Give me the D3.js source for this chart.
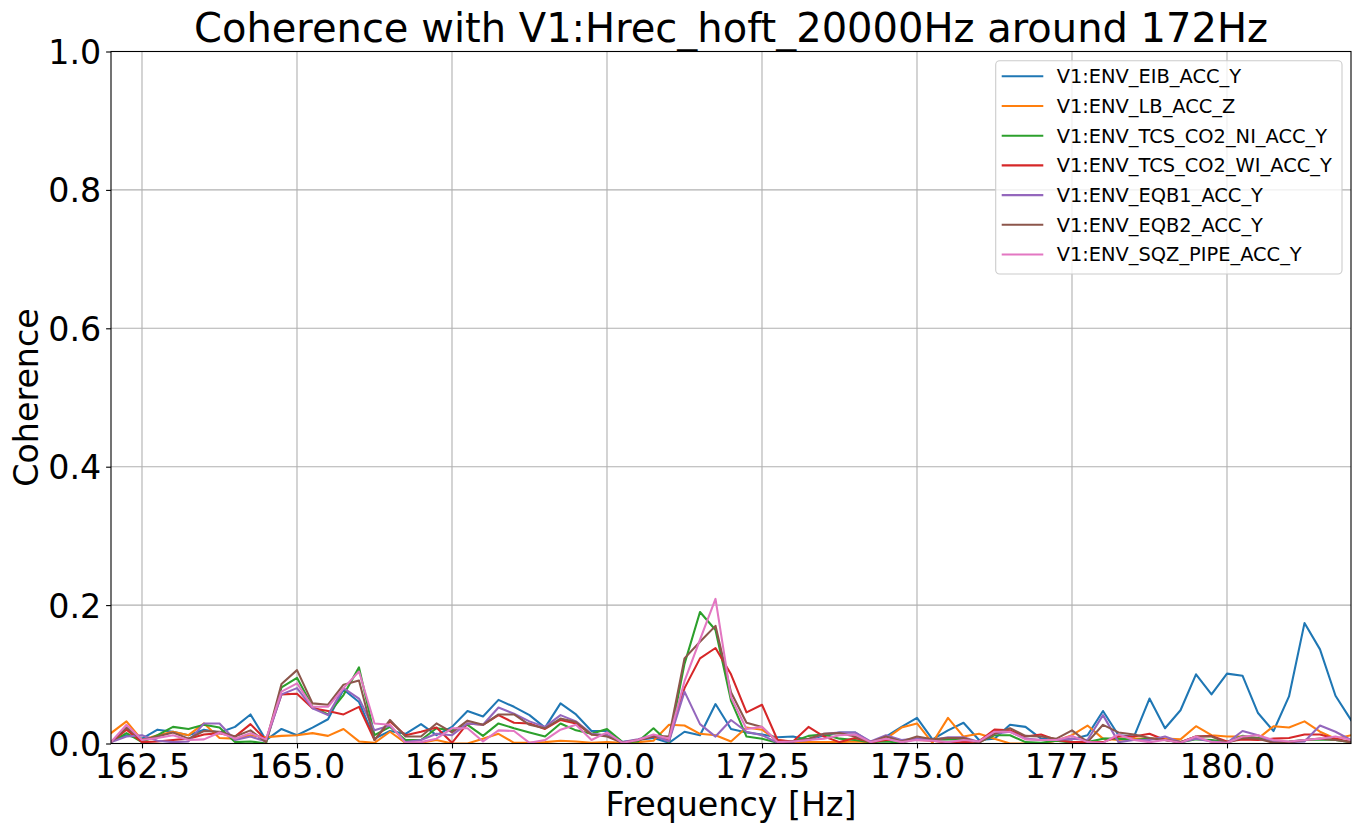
<!DOCTYPE html>
<html>
<head>
<meta charset="utf-8">
<script src="https://cdn.jsdelivr.net/npm/d3@7"></script>
<style>
  html, body { margin: 0; padding: 0; background: #fff; }
  svg { display: block; font-family: "DejaVu Sans", sans-serif; }
</style>
</head>
<body>
<svg id="chart" width="1361" height="835"></svg>
<script>
// ---- data ----
const freqStart = 162.0;
const freqStep = 0.25;
const nPoints = 81;
const frequencies = d3.range(nPoints).map(i => freqStart + i * freqStep);

const xTicks = [162.5, 165.0, 167.5, 170.0, 172.5, 175.0, 177.5, 180.0];
const yTicks = [0.0, 0.2, 0.4, 0.6, 0.8, 1.0];

const channelNames = [
  "V1:ENV_EIB_ACC_Y",
  "V1:ENV_LB_ACC_Z",
  "V1:ENV_TCS_CO2_NI_ACC_Y",
  "V1:ENV_TCS_CO2_WI_ACC_Y",
  "V1:ENV_EQB1_ACC_Y",
  "V1:ENV_EQB2_ACC_Y",
  "V1:ENV_SQZ_PIPE_ACC_Y"
];

const eibAccY = [0.003,0.012,0.007,0.020,0.017,0.012,0.020,0.016,0.024,0.042,
  0.005,0.021,0.012,0.023,0.035,0.078,0.060,0.007,0.018,0.014,
  0.028,0.012,0.024,0.047,0.039,0.063,0.053,0.041,0.023,0.058,
  0.042,0.018,0.018,0.002,0.005,0.008,0.001,0.017,0.012,0.057,
  0.021,0.016,0.013,0.009,0.010,0.005,0.012,0.016,0.016,0.002,
  0.010,0.024,0.037,0.006,0.019,0.030,0.005,0.007,0.027,0.024,
  0.007,0.005,0.006,0.012,0.047,0.012,0.010,0.065,0.022,0.048,
  0.100,0.071,0.101,0.098,0.044,0.018,0.068,0.174,0.136,0.069,0.034];

const lbAccZ = [0.015,0.032,0.005,0.012,0.017,0.012,0.029,0.008,0.007,0.012,
  0.009,0.011,0.012,0.015,0.011,0.021,0.003,0.001,0.017,0.001,
  0.001,0.005,0.000,0.000,0.007,0.014,0.001,0.001,0.002,0.004,
  0.003,0.001,0.002,0.001,0.002,0.004,0.027,0.026,0.014,0.012,
  0.003,0.023,0.020,0.005,0.002,0.002,0.002,0.002,0.003,0.002,
  0.007,0.023,0.029,0.001,0.037,0.010,0.014,0.007,0.000,0.000,
  0.000,0.004,0.012,0.026,0.007,0.005,0.007,0.007,0.007,0.006,
  0.025,0.012,0.010,0.010,0.007,0.025,0.023,0.032,0.017,0.007,0.012];

const tcsCo2NiAccY = [0.002,0.015,0.002,0.012,0.024,0.021,0.027,0.023,0.002,0.003,
  0.000,0.081,0.095,0.053,0.042,0.070,0.110,0.012,0.024,0.005,
  0.005,0.022,0.019,0.027,0.011,0.029,0.022,0.016,0.010,0.029,
  0.019,0.014,0.021,0.002,0.003,0.022,0.001,0.115,0.190,0.164,
  0.062,0.010,0.007,0.001,0.003,0.011,0.013,0.007,0.005,0.002,
  0.003,0.001,0.007,0.005,0.006,0.006,0.002,0.012,0.012,0.002,
  0.001,0.004,0.001,0.002,0.007,0.007,0.005,0.007,0.005,0.002,
  0.006,0.005,0.002,0.011,0.008,0.002,0.003,0.005,0.006,0.005,0.002];

const tcsCo2WiAccY = [0.002,0.020,0.002,0.003,0.005,0.007,0.013,0.015,0.010,0.028,
  0.005,0.071,0.072,0.051,0.047,0.042,0.053,0.005,0.032,0.012,
  0.017,0.023,0.001,0.029,0.027,0.041,0.030,0.029,0.021,0.034,
  0.029,0.013,0.012,0.001,0.005,0.010,0.005,0.080,0.123,0.138,
  0.100,0.045,0.056,0.005,0.003,0.024,0.010,0.002,0.008,0.002,
  0.005,0.005,0.005,0.004,0.001,0.002,0.003,0.020,0.019,0.010,
  0.013,0.005,0.002,0.002,0.002,0.010,0.010,0.014,0.005,0.002,
  0.010,0.011,0.003,0.006,0.005,0.007,0.008,0.013,0.013,0.007,0.002];

const eqb1AccY = [0.002,0.010,0.012,0.004,0.002,0.003,0.029,0.029,0.005,0.010,
  0.003,0.071,0.080,0.051,0.041,0.080,0.065,0.019,0.026,0.002,
  0.005,0.014,0.012,0.029,0.027,0.052,0.043,0.032,0.024,0.041,
  0.032,0.014,0.012,0.002,0.006,0.012,0.003,0.075,0.028,0.010,
  0.034,0.017,0.012,0.001,0.003,0.005,0.014,0.016,0.016,0.003,
  0.012,0.005,0.007,0.005,0.009,0.009,0.002,0.014,0.017,0.007,
  0.005,0.005,0.007,0.005,0.041,0.002,0.005,0.005,0.010,0.002,
  0.007,0.003,0.001,0.018,0.012,0.002,0.002,0.003,0.026,0.017,0.005];

const eqb2AccY = [0.002,0.023,0.005,0.010,0.016,0.007,0.018,0.017,0.010,0.019,
  0.002,0.086,0.106,0.058,0.056,0.085,0.091,0.005,0.034,0.010,
  0.010,0.029,0.016,0.033,0.027,0.042,0.042,0.027,0.022,0.036,
  0.031,0.013,0.010,0.001,0.005,0.011,0.010,0.123,0.147,0.170,
  0.074,0.030,0.024,0.002,0.003,0.007,0.014,0.015,0.010,0.002,
  0.010,0.003,0.010,0.006,0.008,0.008,0.001,0.014,0.022,0.011,
  0.010,0.007,0.019,0.002,0.027,0.016,0.013,0.008,0.005,0.002,
  0.010,0.010,0.001,0.008,0.007,0.001,0.002,0.005,0.007,0.005,0.002];

const sqzPipeAccY = [0.002,0.027,0.005,0.008,0.012,0.005,0.006,0.016,0.007,0.015,
  0.006,0.075,0.087,0.053,0.053,0.080,0.104,0.029,0.027,0.001,
  0.002,0.007,0.022,0.022,0.003,0.019,0.018,0.001,0.005,0.020,
  0.027,0.005,0.016,0.001,0.005,0.013,0.007,0.090,0.150,0.209,
  0.067,0.021,0.024,0.002,0.003,0.005,0.007,0.012,0.013,0.002,
  0.007,0.002,0.005,0.004,0.002,0.005,0.003,0.017,0.017,0.006,
  0.005,0.005,0.011,0.002,0.001,0.013,0.005,0.002,0.005,0.001,
  0.010,0.002,0.001,0.010,0.012,0.005,0.003,0.005,0.007,0.010,0.005];

const seriesValues = [eibAccY, lbAccZ, tcsCo2NiAccY, tcsCo2WiAccY, eqb1AccY, eqb2AccY, sqzPipeAccY];
const colors = ["#1f77b4","#ff7f0e","#2ca02c","#d62728","#9467bd","#8c564b","#e377c2"];

const titleText = "Coherence with V1:Hrec_hoft_20000Hz around 172Hz";
const xLabel = "Frequency [Hz]";
const yLabel = "Coherence";

// ---- layout ----
const svg = d3.select("#chart");
const plot = { left: 111, right: 1351, top: 51.5, bottom: 743.5 };

const x = d3.scaleLinear().domain([162, 182]).range([plot.left, plot.right]);
const y = d3.scaleLinear().domain([0, 1]).range([plot.bottom, plot.top]);

svg.append("rect").attr("width", 1361).attr("height", 835).attr("fill", "#fff");

// grid
const grid = svg.append("g");
grid.selectAll(".gx").data(xTicks).enter().append("line")
  .attr("x1", d => x(d)).attr("x2", d => x(d))
  .attr("y1", plot.top).attr("y2", plot.bottom)
  .attr("stroke", "#b0b0b0").attr("stroke-width", 1.1);
grid.selectAll(".gy").data(yTicks).enter().append("line")
  .attr("x1", plot.left).attr("x2", plot.right)
  .attr("y1", d => y(d)).attr("y2", d => y(d))
  .attr("stroke", "#b0b0b0").attr("stroke-width", 1.1);

// lines
svg.append("clipPath").attr("id", "clip").append("rect")
  .attr("x", plot.left).attr("y", plot.top)
  .attr("width", plot.right - plot.left).attr("height", plot.bottom - plot.top);

const line = d3.line().x((d, i) => x(frequencies[i])).y(d => y(d));
const linesG = svg.append("g").attr("clip-path", "url(#clip)");
seriesValues.forEach((vals, si) => {
  linesG.append("path").datum(vals)
    .attr("d", line)
    .attr("fill", "none")
    .attr("stroke", colors[si])
    .attr("stroke-width", 2.08)
    .attr("stroke-linejoin", "round")
    .attr("stroke-linecap", "square");
});

// axes
const xAxis = d3.axisBottom(x).tickValues(xTicks).tickFormat(d3.format(".1f")).tickSize(4.9).tickPadding(4.9);
const yAxis = d3.axisLeft(y).tickValues(yTicks).tickFormat(d3.format(".1f")).tickSize(4.9).tickPadding(4.9);

const gx = svg.append("g").attr("transform", `translate(0,${plot.bottom})`).call(xAxis);
const gy = svg.append("g").attr("transform", `translate(${plot.left},0)`).call(yAxis);
[gx, gy].forEach(g => {
  g.select(".domain").remove();
  g.selectAll(".tick line").attr("stroke", "#000").attr("stroke-width", 1.1);
  g.selectAll(".tick text").attr("fill", "#000")
    .style("font-family", "DejaVu Sans").style("font-size", "33.3px");
});
gx.selectAll(".tick text").attr("dy", null).attr("y", 4.9 + 4.9).attr("dominant-baseline", "hanging");
gy.selectAll(".tick text").attr("dy", "0.36em");

// spines
svg.append("rect")
  .attr("x", plot.left).attr("y", plot.top)
  .attr("width", plot.right - plot.left).attr("height", plot.bottom - plot.top)
  .attr("fill", "none").attr("stroke", "#000").attr("stroke-width", 1.1);

// labels
svg.append("text").attr("x", (plot.left + plot.right) / 2).attr("y", 42)
  .attr("text-anchor", "middle").style("font-size", "40px").attr("fill", "#000")
  .text(titleText);
svg.append("text").attr("x", (plot.left + plot.right) / 2).attr("y", 816)
  .attr("text-anchor", "middle").style("font-size", "33.3px").attr("fill", "#000")
  .text(xLabel);
svg.append("text")
  .attr("transform", `translate(38,${(plot.top + plot.bottom) / 2}) rotate(-90)`)
  .attr("text-anchor", "middle").style("font-size", "33.3px").attr("fill", "#000")
  .text(yLabel);

// legend
const legend = svg.append("g");
legend.append("rect")
  .attr("x", 995.7).attr("y", 60.7).attr("width", 346.3).attr("height", 213.3)
  .attr("rx", 4).attr("ry", 4)
  .attr("fill", "#fff").attr("fill-opacity", 0.8)
  .attr("stroke", "#cccccc").attr("stroke-width", 1.1);
const rowY0 = 76.3, rowStep = 29.7;
channelNames.forEach((name, i) => {
  const ry = rowY0 + i * rowStep;
  legend.append("line")
    .attr("x1", 1001.7).attr("x2", 1043.3).attr("y1", ry).attr("y2", ry)
    .attr("stroke", colors[i]).attr("stroke-width", 2.08);
  legend.append("text")
    .attr("x", 1056.7).attr("y", ry).attr("dy", "0.36em")
    .style("font-size", "19.4px").attr("fill", "#000")
    .text(name);
});
</script>
</body>
</html>
